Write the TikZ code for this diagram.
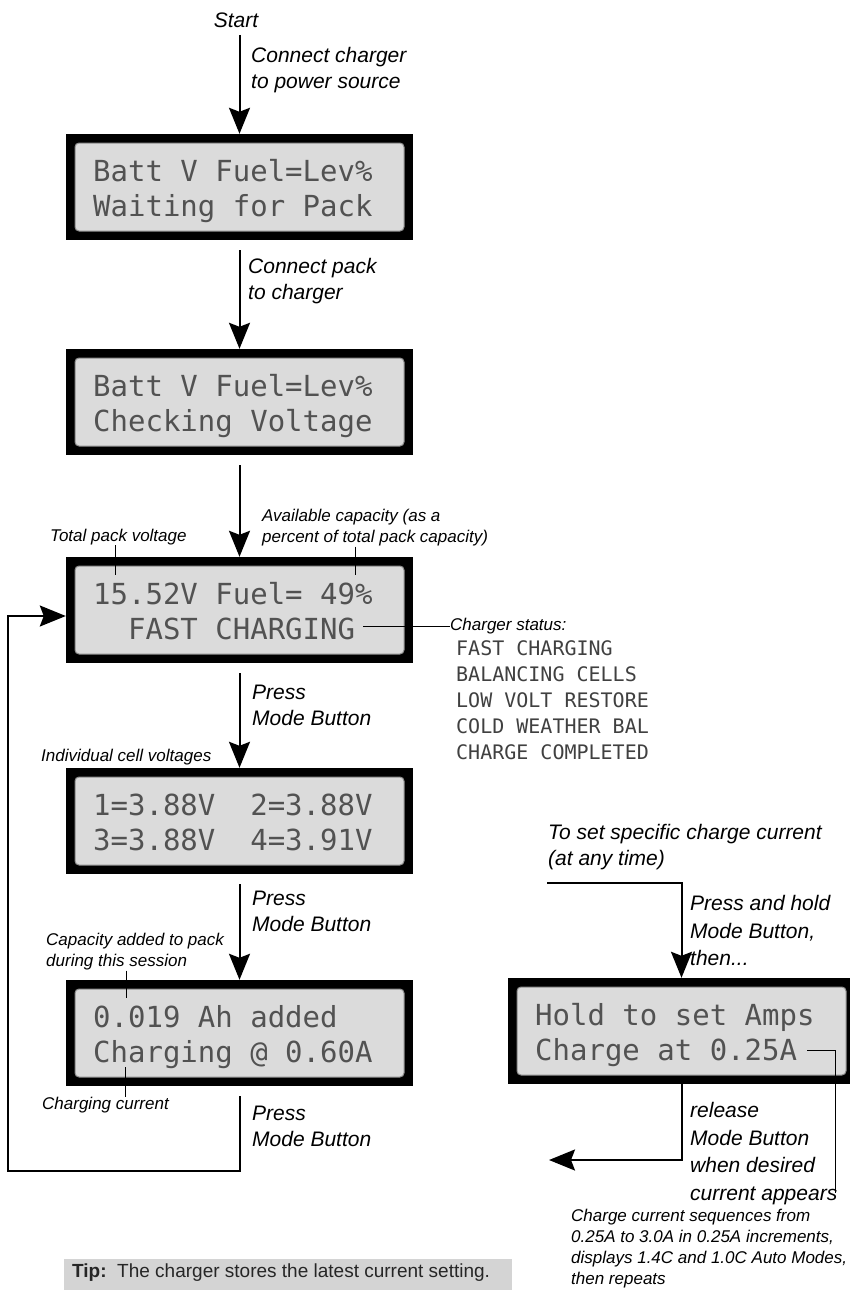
\documentclass[tikz,border=0pt]{standalone}
\usepackage{fontspec}
\setmainfont{Liberation Sans}
\newfontfamily\lcdfont{DejaVu Sans Mono}
\usetikzlibrary{arrows.meta}
\newcommand{\lcdback}{black!14}
\newcommand{\lcdink}{black!68}
\newcommand{\tipback}{black!17}

\tikzset{
  flow/.style={line width=2pt,
    -{Stealth[length=26pt,width=21pt,inset=4pt]}},
  leader/.style={line width=1pt},
  lcdframe/.style={rectangle, fill=black, inner sep=0pt,
    minimum width=347pt, minimum height=106pt},
  lcdtext/.style={anchor=west, inner sep=0pt, text=\lcdink,
    text height=21pt, text depth=0pt,
    font=\lcdfont\fontsize{29pt}{29pt}\selectfont},
  biglabel/.style={anchor=west, align=left, inner sep=0pt,
    font=\itshape\fontsize{21pt}{26pt}\selectfont},
  smalllabel/.style={anchor=west, align=left, inner sep=0pt,
    font=\itshape\fontsize{17pt}{21pt}\selectfont},
  statuslist/.style={anchor=west, align=left, inner sep=0pt, text=black!75,
    font=\lcdfont\fontsize{20pt}{26pt}\selectfont}
}

% lcd panel: name, left, top, first row, second row
\newcommand{\lcdpanel}[5]{
  \node[lcdframe] (#1) at (#2+173.5,#3+53) {};
  \filldraw[fill=\lcdback, draw=black!45, line width=1pt,
    rounded corners=4pt] (#2+9,#3+9) rectangle (#2+338,#3+97);
  \node[lcdtext] (#1-a) at (#2+27,#3+37) {#4};
  \node[lcdtext] (#1-b) at (#2+27,#3+72) {#5};
}

\begin{document}
\begin{tikzpicture}[x=1pt,y=-1pt]

\useasboundingbox (0,0) rectangle (850,1290);

% displays
\lcdpanel{lcdA}{66}{134}{Batt V Fuel=Lev\%}{Waiting for Pack}
\lcdpanel{lcdB}{66}{349}{Batt V Fuel=Lev\%}{Checking Voltage}
\lcdpanel{lcdC}{66}{557}{15.52V Fuel= 49\%}{~~FAST CHARGING}
\lcdpanel{lcdD}{66}{768}{1=3.88V~~2=3.88V}{3=3.88V~~4=3.91V}
\lcdpanel{lcdE}{66}{980}{0.019 Ah added}{Charging @ 0.60A}
\lcdpanel{lcdF}{508}{978}{Hold to set Amps}{Charge at 0.25A}

% main sequence
\node[font=\itshape\fontsize{21pt}{26pt}\selectfont] (start) at (236,20) {Start};
\draw[flow, shorten <=4pt] (lcdA.north |- start.south) -- (lcdA.north);
\node[biglabel] (conCharger) at (251,70.5) {Connect charger\\to power source};

\draw[flow, shorten <=10pt] (lcdA) -- (lcdB);
\node[biglabel] (conPack) at (248,281.5) {Connect pack\\to charger};

\draw[flow, shorten <=10pt] (lcdB) -- (lcdC);

\draw[flow, shorten <=10pt] (lcdC) -- (lcdD);
\node[biglabel] (pressA) at (252,705) {Press\\Mode Button};

\draw[flow, shorten <=10pt] (lcdD) -- (lcdE);
\node[biglabel] (pressB) at (252,911) {Press\\Mode Button};

% back to the charge display
\coordinate (loopCorner) at (8,1171);
\draw[flow] ([yshift=-10pt]lcdE.south) |- (loopCorner)
    |- ([yshift=-6pt]lcdC.west);
\node[biglabel] (pressC) at (252,1126) {Press\\Mode Button};

% notes on the displays
\node[smalllabel] (packVolt) at (50,537) {Total pack voltage};
\coordinate (packVoltEnd) at (115,575);
\draw[leader] (packVoltEnd |- packVolt.south) -- (packVoltEnd);

\node[smalllabel] (capacity) at (262,528)
    {Available capacity (as a\\percent of total pack capacity)};
\coordinate (capacityEnd) at (355,575);
\draw[leader] (capacityEnd |- capacity.south) -- (capacityEnd);

\node[smalllabel] (status) at (450,626) {Charger status:};
\draw[leader] ([xshift=8pt]lcdC-b.east |- status.west) -- (status.west);
\node[statuslist] (statusList) at (456,700)
    {FAST CHARGING\\BALANCING CELLS\\LOW VOLT RESTORE\\COLD WEATHER BAL\\CHARGE COMPLETED};

\node[smalllabel] (cells) at (41,757) {Individual cell voltages};

\node[smalllabel] (added) at (46,952)
    {Capacity added to pack\\during this session};
\coordinate (addedEnd) at (126,998);
\draw[leader] (addedEnd |- added.south) -- (addedEnd);

\node[smalllabel] (current) at (42,1105) {Charging current};
\coordinate (currentTop) at (125,1067);
\draw[leader] (currentTop) -- (currentTop |- current.north);

% setting the current
\node[biglabel] (setCurrent) at (548,847.5)
    {To set specific charge current\\(at any time)};
\coordinate (setStart) at (547,883);
\draw[flow] (setStart) -| (lcdF.north);
\node[biglabel, font=\itshape\fontsize{21pt}{27.5pt}\selectfont] (hold) at (690,930.5)
    {Press and hold\\Mode Button,\\then...};

\coordinate (releaseEnd) at (549,1160);
\draw[flow] (lcdF.south) |- (releaseEnd);
\node[biglabel, font=\itshape\fontsize{21pt}{27.7pt}\selectfont] (release) at (690,1153.5)
    {release\\Mode Button\\when desired\\current appears};

\coordinate (ampsEnd) at (835,1193);
\draw[leader] ([xshift=10pt]lcdF-b.east) -| (ampsEnd);

\node[smalllabel] (sequence) at (571,1249)
    {Charge current sequences from\\0.25A to 3.0A in 0.25A increments,\\displays 1.4C and 1.0C Auto Modes,\\then repeats};

% tip
\fill[\tipback] (64,1259) rectangle (512,1295);
\node[anchor=west, inner sep=0pt, text=black!85,
    font=\fontsize{19pt}{22pt}\selectfont] (tip) at (72,1273)
    {\textbf{Tip:}\ \ The charger stores the latest current setting.};

\end{tikzpicture}
\end{document}
